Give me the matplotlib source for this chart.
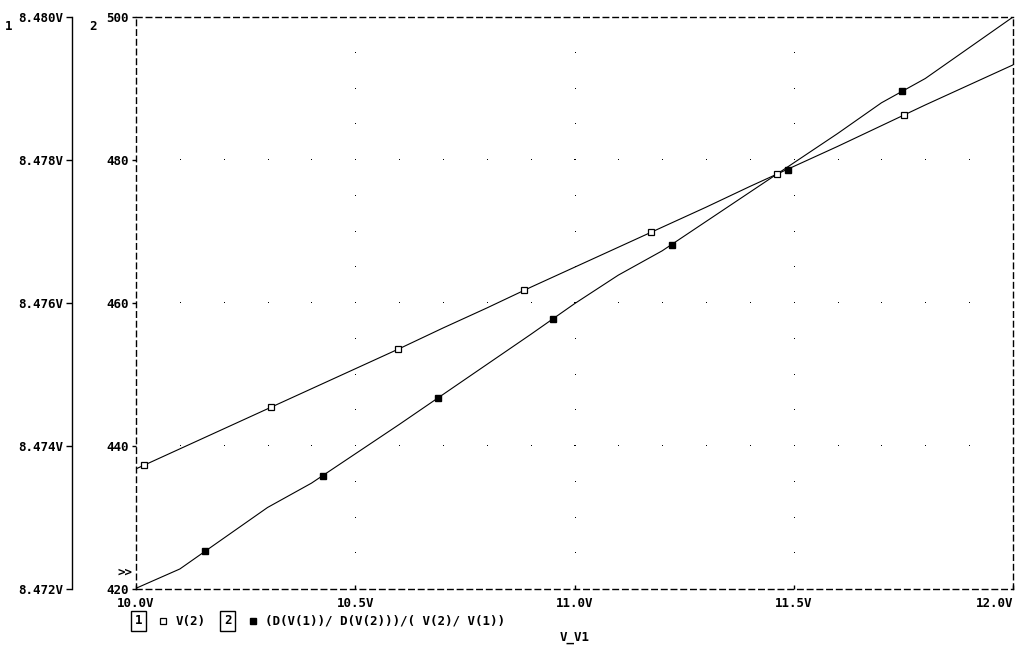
import numpy as np
import matplotlib.pyplot as plt

# ---- data ----
v_sweep = [10.0, 10.1, 10.2, 10.3, 10.4, 10.5, 10.6, 10.7, 10.8, 10.9, 11.0,
           11.1, 11.2, 11.3, 11.4, 11.5, 11.6, 11.7, 11.8, 11.9, 12.0]

# trace 1 : V(2)  (axis 1, volts)
v2 = [8.47368, 8.47396, 8.47424, 8.47452, 8.47480, 8.47508, 8.47536, 8.47565,
      8.47593, 8.47622, 8.47650, 8.47678, 8.47706, 8.47734, 8.47763, 8.47791,
      8.47819, 8.47848, 8.47877, 8.47905, 8.47933]
v2_mark_x = [10.019, 10.308, 10.597, 10.885, 11.174, 11.462, 11.751]
v2_mark_y = [8.473734, 8.474545, 8.475357, 8.476182, 8.476993, 8.477804, 8.478629]

# trace 2 : (D(V(1))/D(V(2)))/(V(2)/V(1))  (axis 2)
sens = [420.1, 422.8, 427.1, 431.4, 434.8, 438.9, 443.0, 447.2, 451.4, 455.6,
        459.9, 463.9, 467.3, 471.4, 475.5, 479.6, 483.7, 488.0, 491.4, 495.7, 500.0]
sens_mark_x = [10.157, 10.426, 10.689, 10.951, 11.222, 11.487, 11.747]
sens_mark_y = [425.3, 435.8, 446.7, 457.8, 468.1, 478.6, 489.7]

x_ticks = [10.0, 10.5, 11.0, 11.5, 12.0]
x_labels = ["10.0V", "10.5V", "11.0V", "11.5V", "12.0V"]
y1_ticks = [8.472, 8.474, 8.476, 8.478, 8.480]
y1_labels = ["8.472V", "8.474V", "8.476V", "8.478V", "8.480V"]
y2_ticks = [420, 440, 460, 480, 500]
y2_labels = ["420", "440", "460", "480", "500"]

FONT = dict(family="DejaVu Sans Mono", weight="bold", size=9)
W, H = 1020, 646

fig = plt.figure(figsize=(W / 100, H / 100), dpi=100)
pos = [136 / W, (H - 589) / H, (1013 - 136) / W, (589 - 17) / H]

# ---- axis 2 (main, dashed frame) ----
ax2 = fig.add_axes(pos)
ax2.set_xlim(10.0, 12.0)
ax2.set_ylim(420, 500)
for s in ax2.spines.values():
    s.set_linestyle((0, (4, 3)))
    s.set_linewidth(1)
ax2.set_xticks(x_ticks)
ax2.set_xticklabels(x_labels, fontdict=FONT)
ax2.get_xticklabels()[-1].set_horizontalalignment("right")
ax2.get_xticklabels()[-1].set_x(12.0)
ax2.set_yticks(y2_ticks)
ax2.set_yticklabels(y2_labels, fontdict=FONT)
ax2.tick_params(axis="x", direction="in", length=3, width=1, pad=6)
ax2.tick_params(axis="y", direction="out", length=3, width=1, pad=2)
for lab in ax2.get_yticklabels():
    lab.set_verticalalignment("center_baseline")

# dotted grid
gx = np.arange(10.1, 11.95, 0.1)
for gy in y2_ticks[1:-1]:
    ax2.plot(gx, [gy] * len(gx), linestyle="none", marker=",", color="black")
gy_pts = np.arange(425, 500, 5)
for xv in x_ticks[1:-1]:
    ax2.plot([xv] * len(gy_pts), gy_pts, linestyle="none", marker=",",
             color="black")

ax2.plot(v_sweep, sens, color="black", lw=0.8)
ax2.plot(sens_mark_x, sens_mark_y, linestyle="none", marker="s", markersize=4.5,
         color="black")

# ---- axis 1 (solid spine, further left) ----
ax1 = fig.add_axes(pos)
ax1.patch.set_visible(False)
ax1.set_xlim(10.0, 12.0)
ax1.set_ylim(8.472, 8.480)
for k in ["top", "right", "bottom"]:
    ax1.spines[k].set_visible(False)
ax1.spines["left"].set_position(("outward", 64 * 0.72))
ax1.spines["left"].set_linewidth(1)
ax1.set_xticks([])
ax1.set_yticks(y1_ticks)
ax1.set_yticklabels(y1_labels, fontdict=FONT)
ax1.tick_params(axis="y", direction="out", length=4, width=1, pad=2)
for lab in ax1.get_yticklabels():
    lab.set_verticalalignment("center_baseline")

ax1.plot(v_sweep, v2, color="black", lw=0.8)
ax1.plot(v2_mark_x, v2_mark_y, linestyle="none", marker="s", markersize=4.5,
         markerfacecolor="white", markeredgecolor="black", markeredgewidth=0.9)

# ---- labels ----
def ftext(x, y, s, **kw):
    fig.text(x / W, 1 - y / H, s, fontdict=FONT, va="center", **kw)

ftext(5, 27, "1")
ftext(89, 27, "2")
ftext(118, 572, ">>")
ftext(575, 637, "V_V1", ha="center")

box = dict(boxstyle="square,pad=0.3", facecolor="white", edgecolor="black", lw=1)
ftext(135, 621, "1", bbox=box)
ftext(176, 621, "V(2)")
ftext(224, 621, "2", bbox=box)
ftext(265, 621, "(D(V(1))/ D(V(2)))/( V(2)/ V(1))")
# legend symbols
fig.lines.append(plt.Line2D([163 / W], [1 - 621 / H], transform=fig.transFigure,
                            marker="s", markersize=4, markerfacecolor="white",
                            markeredgecolor="black", markeredgewidth=0.9))
fig.lines.append(plt.Line2D([253 / W], [1 - 621 / H], transform=fig.transFigure,
                            marker="s", markersize=4, color="black"))

fig.savefig("out.png", dpi=100)
